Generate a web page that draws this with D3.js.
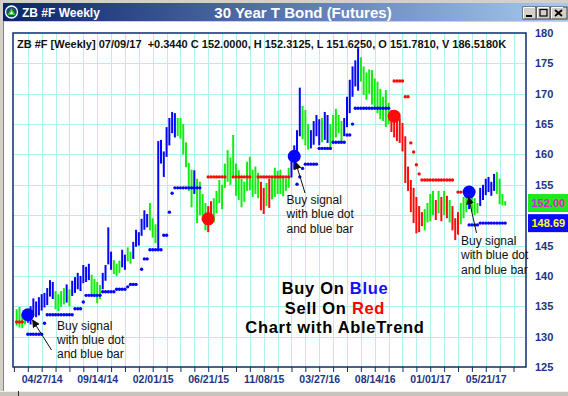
<!DOCTYPE html>
<html>
<head>
<meta charset="utf-8">
<script src="https://cdn.jsdelivr.net/npm/d3@7"></script>
<style>
  body { margin: 0; background: #d4d0c8; }
  svg { display: block; font-family: "Liberation Sans", Arial, sans-serif; }
</style>
</head>
<body>
<script>
// weekly bars, first one dated 02/23/14
const firstWeek = '02/23/14';

const highs = [
  134.5, 134.9, 133.8, 133.5, 134.5, 135.0, 136.3, 135.8, 136.5, 137.0,
  137.2, 138.0, 139.3, 139.0, 137.5, 137.0, 137.5, 138.0, 138.6, 137.8,
  139.2, 139.8, 140.5, 140.0, 141.8, 141.5, 142.0, 140.2, 139.5, 139.0,
  138.5, 140.5, 141.8, 148.0, 144.0, 142.6, 142.0, 142.5, 144.3, 143.5,
  144.7, 144.0, 145.6, 147.6, 147.2, 149.4, 150.8, 150.2, 152.0, 149.5,
  148.5, 162.2, 162.4, 160.5, 164.5, 166.0, 167.0, 166.8, 166.0, 166.0,
  165.0, 162.0, 158.6, 157.5, 157.4, 156.0, 155.5, 153.5, 152.0, 151.5,
  152.3, 152.8, 154.0, 155.8, 155.0, 158.5, 160.7, 159.5, 163.2, 158.5,
  157.4, 156.0, 155.5, 158.8, 159.6, 157.5, 158.0, 157.0, 155.5, 154.5,
  155.3, 156.0, 156.2, 157.8, 157.3, 157.5, 156.5, 156.0, 157.8, 159.2,
  161.5, 164.0, 171.0, 168.0, 167.3, 165.0, 164.0, 165.5, 166.5, 165.8,
  166.0, 167.0, 166.5, 165.0, 166.5, 167.5, 166.5, 165.5, 166.0, 169.5,
  172.3, 174.5, 175.5, 177.5, 176.0, 174.5, 173.5, 174.0, 173.9, 172.5,
  172.0, 170.8, 169.5, 170.6, 168.5, 167.3, 167.0, 166.5, 166.0, 165.2,
  163.0, 158.0, 155.8, 154.5, 153.0, 151.5, 150.5, 151.0, 152.0, 153.5,
  154.0, 152.5, 154.0, 153.0, 154.0, 153.2, 152.5, 151.5, 149.5, 150.5,
  152.0, 153.0, 153.5, 154.0, 153.0, 152.8, 152.0, 154.5, 155.0, 156.0,
  156.3, 155.5, 156.8, 157.1, 156.0, 153.5, 152.3
];

const lows = [
  131.8, 131.5, 131.4, 132.0, 132.3, 132.0, 133.4, 133.2, 133.5, 134.3,
  134.8, 135.2, 136.6, 136.2, 134.5, 134.2, 134.9, 135.3, 135.6, 135.0,
  136.7, 137.2, 137.8, 137.5, 138.8, 139.0, 139.3, 137.0, 136.5, 135.5,
  136.2, 137.8, 139.2, 141.9, 141.0, 140.3, 140.0, 140.5, 141.4, 141.0,
  142.4, 142.0, 142.8, 144.8, 145.0, 146.6, 147.6, 148.0, 147.5, 146.3,
  145.4, 144.3, 158.5, 156.3, 159.6, 161.5, 163.5, 162.8, 163.0, 162.6,
  160.0, 157.9, 154.0, 151.3, 153.5, 148.7, 150.0, 149.0, 147.5, 147.2,
  148.5, 148.8, 150.3, 152.0, 151.0, 154.5, 155.5, 155.0, 156.5, 153.2,
  152.5, 151.3, 152.2, 154.0, 154.1, 153.0, 153.5, 152.8, 150.8, 150.2,
  151.5, 151.2, 152.6, 153.0, 153.5, 153.5, 153.1, 154.0, 154.5, 156.2,
  157.5, 159.6, 163.0, 162.5, 161.5, 160.8, 161.0, 161.6, 163.0, 161.5,
  162.0, 162.4, 161.9, 161.2, 162.0, 162.8, 163.5, 162.2, 163.0, 164.5,
  166.8, 169.5, 171.2, 170.5, 172.0, 169.8, 169.0, 170.0, 168.2, 167.5,
  166.8, 165.8, 165.5, 164.5, 165.0, 163.7, 162.8, 162.2, 161.9, 160.5,
  155.3, 154.0, 150.5, 148.7, 147.0, 147.2, 148.2, 147.5, 148.8, 149.0,
  150.0, 149.2, 150.3, 149.0, 150.0, 149.5, 148.8, 147.5, 145.9, 146.8,
  148.5, 149.5, 150.5, 151.0, 150.5, 150.0, 150.3, 151.5, 152.5, 153.3,
  153.8, 153.2, 154.0, 153.5, 151.8, 151.6, 151.6
];

// B = up (blue), G = neutral (green), R = down (red)
const trend =
  'GGGGBBBBBBBBBBGGGGBGBBBBBBBGGGGBBBBGGGBBGGBBBBBBGGGBBBBBBBGGGGGGBGGGG' +
  'RRGGGGGGGGGGGGGGGGGRRGRGGGGGGGBBBBGGGBBBBGBBGGGGGBBBBBBGGGGGGGGGGG' +
  'RRRRRRRRRRRRGGGGRGRGRGRRRGGGBGGGBBBBBBGGGG';

// stop levels: [first bar, last bar, level, side]
const stopRuns = [
  [0, 2, 132.4, 'R'], [4, 9, 130.4, 'B'], [10, 10, 132.2, 'B'], [11, 20, 133.6, 'B'],
  [21, 23, 134.6, 'B'], [24, 24, 135.7, 'B'], [25, 30, 136.8, 'B'], [31, 35, 137.4, 'B'],
  [36, 39, 137.8, 'B'], [40, 40, 138.2, 'B'], [41, 43, 138.6, 'B'], [45, 45, 141.1, 'B'],
  [46, 47, 142.8, 'B'], [48, 52, 144.3, 'B'], [53, 54, 146.7, 'B'], [55, 55, 150.5, 'B'],
  [56, 56, 153.6, 'B'], [57, 66, 154.5, 'B'],
  [69, 75, 156.3, 'R'], [78, 84, 156.3, 'R'], [87, 98, 156.3, 'R'],
  [101, 101, 155.1, 'B'], [102, 102, 156.3, 'B'], [103, 103, 157.7, 'B'], [104, 108, 158.4, 'B'],
  [109, 113, 161.0, 'B'], [114, 118, 162.0, 'B'], [119, 120, 163.2, 'B'], [121, 121, 165.0, 'B'],
  [122, 134, 167.6, 'B'],
  [136, 139, 172.1, 'R'], [140, 141, 169.5, 'R'], [142, 142, 161.9, 'R'], [143, 143, 160.4, 'R'],
  [144, 144, 158.3, 'R'], [145, 145, 156.8, 'R'], [146, 157, 155.8, 'R'], [159, 160, 153.8, 'R'],
  [163, 166, 148.4, 'B'], [167, 176, 148.7, 'B']
];

// signal dots: bar index, level, side
const signals = [
  [4, 133.6, 'B'], [69, 149.4, 'R'], [100, 159.7, 'B'], [136, 166.3, 'R'], [163, 153.8, 'B']
];

const priceTicks = [125, 130, 135, 140, 145, 150, 155, 160, 165, 170, 175, 180];
const dateLabels = ['04/27/14', '09/14/14', '02/01/15', '06/21/15', '11/08/15',
  '03/27/16', '08/14/16', '01/01/17', '05/21/17'];

const lastClose = 152.00;
const lastStop = 148.69;
const headerText = 'ZB #F [Weekly] 07/09/17  +0.3440 C 152.0000, H 152.3125, L 151.6250, O 151.7810, V 186.5180K';

const colors = { B: '#0505ff', G: '#10ee10', R: '#ff0a0a' };
const navy = '#0c2c6c';

const W = 568, H = 396;
const svg = d3.select('body').append('svg').attr('width', W).attr('height', H);

// window chrome
svg.append('rect').attr('width', W).attr('height', H).attr('fill', '#d4d0c8');
svg.append('rect').attr('x', 4).attr('y', 22).attr('width', W - 4).attr('height', 369).attr('fill', '#fff');
svg.append('line').attr('x1', 3.5).attr('x2', 3.5).attr('y1', 21).attr('y2', 391).attr('stroke', '#808080');

const grad = svg.append('defs').append('linearGradient').attr('id', 'tb');
grad.append('stop').attr('offset', '0%').attr('stop-color', '#0a246a');
grad.append('stop').attr('offset', '100%').attr('stop-color', '#a6caf0');
svg.append('rect').attr('x', 3).attr('y', 3).attr('width', W - 3).attr('height', 18).attr('fill', 'url(#tb)');

const icon = svg.append('g').attr('transform', 'translate(11.5,12)');
icon.append('circle').attr('r', 6).attr('fill', '#1f4d6e').attr('stroke', '#fff').attr('stroke-width', 1.3);
icon.append('path').attr('d', 'M0,-4 L4,3 L-4,3 Z').attr('fill', '#3cc43c');
icon.append('path').attr('d', 'M0,-1 L1.6,2 L-1.6,2 Z').attr('fill', '#fff');

svg.append('text').attr('x', 22).attr('y', 16.5).attr('fill', '#fff')
  .attr('font-size', 12).attr('font-weight', 'bold').text('ZB #F Weekly');
svg.append('text').attr('x', 303).attr('y', 17.5).attr('text-anchor', 'middle').attr('fill', '#fff')
  .attr('font-size', 15).attr('font-weight', 'bold').text('30 Year T Bond (Futures)');

[[523, '_'], [537, '□'], [551, '×']].forEach(([bx, glyph], k) => {
  const b = svg.append('g').attr('transform', `translate(${bx},7)`);
  b.append('rect').attr('width', k === 2 ? 16 : 13).attr('height', 12).attr('fill', '#d4d0c8')
    .attr('stroke', '#404040').attr('stroke-width', 1);
  b.append('path').attr('d', 'M0.5,11.5 V0.5 H12').attr('stroke', '#fff').attr('fill', 'none');
  if (k === 0) b.append('rect').attr('x', 3).attr('y', 8).attr('width', 6).attr('height', 2).attr('fill', '#000');
  if (k === 1) b.append('rect').attr('x', 3).attr('y', 2.5).attr('width', 7).attr('height', 6.5)
    .attr('fill', 'none').attr('stroke', '#000').attr('stroke-width', 1.2);
  if (k === 2) b.append('path').attr('d', 'M4,3 L11,9 M11,3 L4,9').attr('stroke', '#000').attr('stroke-width', 1.8);
});

// bottom strip
svg.append('rect').attr('x', 0).attr('y', 391).attr('width', W).attr('height', 5).attr('fill', '#c8c4bc');
svg.append('line').attr('x1', 0).attr('x2', W).attr('y1', 391.5).attr('y2', 391.5).attr('stroke', '#f0f0f0');
svg.append('line').attr('x1', 18.5).attr('x2', 18.5).attr('y1', 391).attr('y2', 396).attr('stroke', '#303030');

// scales
const plot = { left: 13, top: 33, right: 526, bottom: 367 };
const parse = d3.utcParse('%m/%d/%y');
const fmt = d3.utcFormat('%m/%d/%y');
const t0 = parse(firstWeek);
const day = 864e5;
const dates = highs.map((_, i) => d3.utcDay.offset(t0, 7 * i));

const x = d3.scaleUtc()
  .domain([new Date(+t0 - 9.33 * day), new Date(+t0 + 1284.5 * day)])
  .range([plot.left, plot.right]);
const y = d3.scaleLinear().domain([125, 180]).range([plot.bottom, plot.top]);

const labelDates = dateLabels.map(parse);
const labelSet = new Set(labelDates.map(d => +d));
const gridDates = d3.utcDay.range(d3.utcDay.offset(labelDates[0], -70), x.domain()[1], 35);

// grid
const grid = svg.append('g').attr('stroke', '#b2f0f0').attr('stroke-width', 1);
grid.selectAll('.v').data(gridDates.filter(d => x(d) > plot.left + 1)).join('line')
  .attr('x1', d => Math.round(x(d)) + 0.5).attr('x2', d => Math.round(x(d)) + 0.5)
  .attr('y1', plot.top).attr('y2', plot.bottom);
grid.selectAll('.h').data(priceTicks.slice(1, -1)).join('line')
  .attr('x1', plot.left).attr('x2', plot.right)
  .attr('y1', d => Math.round(y(d)) + 0.5).attr('y2', d => Math.round(y(d)) + 0.5);

// axes
const xAxis = svg.append('g').attr('transform', `translate(0,${plot.bottom})`)
  .call(d3.axisBottom(x).tickValues(gridDates).tickSize(5).tickPadding(4)
    .tickFormat(d => labelSet.has(+d) ? fmt(d) : ''));
xAxis.select('.domain').remove();
xAxis.selectAll('line').attr('stroke', navy);
xAxis.selectAll('text').attr('fill', '#1b3584').attr('font-size', 10.5).attr('font-weight', 'bold')
  .attr('font-family', '"Liberation Sans", Arial, sans-serif');

// the 150 label sits under the last-price boxes, so it is left out
const boxes = [
  { v: lastClose, bg: '#1ee81e', fg: '#e020d0' },
  { v: lastStop, bg: '#0a0aff', fg: '#ffff30' }
];
const hidden = v => boxes.some(b => Math.abs(y(b.v) - y(v)) < 13);

const yAxis = svg.append('g').attr('transform', `translate(${plot.right},0)`)
  .call(d3.axisRight(y).tickValues(priceTicks.filter(v => !hidden(v))).tickSize(0).tickPadding(9));
yAxis.select('.domain').remove();
yAxis.selectAll('text').attr('fill', '#1b3584').attr('font-size', 11).attr('font-weight', 'bold')
  .attr('font-family', '"Liberation Sans", Arial, sans-serif');

// header line
svg.append('text').attr('x', 17).attr('y', 47.5).attr('font-size', 11).attr('font-weight', 'bold')
  .attr('fill', '#111').attr('xml:space', 'preserve').text(headerText);

// price bars
const bars = highs.map((h, i) => ({ date: dates[i], hi: h, lo: lows[i], side: trend[i] }));
svg.append('g').selectAll('line').data(bars).join('line')
  .attr('x1', d => x(d.date)).attr('x2', d => x(d.date))
  .attr('y1', d => y(d.hi)).attr('y2', d => y(d.lo))
  .attr('stroke', d => colors[d.side]).attr('stroke-width', 2);

// stop dots
const stops = stopRuns.flatMap(([a, b, v, side]) =>
  d3.range(a, b + 1).map(i => ({ date: dates[i], v, side })));
svg.append('g').selectAll('circle').data(stops).join('circle')
  .attr('cx', d => x(d.date)).attr('cy', d => y(d.v)).attr('r', 1.7)
  .attr('fill', d => colors[d.side]);

// signal dots
svg.append('g').selectAll('circle').data(signals).join('circle')
  .attr('cx', d => x(dates[d[0]])).attr('cy', d => y(d[1])).attr('r', 6.5)
  .attr('fill', d => colors[d[2]]);

// frame
svg.append('rect').attr('x', plot.left).attr('y', plot.top)
  .attr('width', plot.right - plot.left).attr('height', plot.bottom - plot.top)
  .attr('fill', 'none').attr('stroke', navy).attr('stroke-width', 1.5);

// last price / stop boxes
const bx = svg.append('g').selectAll('g').data(boxes).join('g')
  .attr('transform', d => `translate(528,${y(d.v) - 9})`);
bx.append('rect').attr('width', 40).attr('height', 18).attr('fill', d => d.bg);
bx.append('text').attr('x', 3.5).attr('y', 13).attr('font-size', 11).attr('font-weight', 'bold')
  .attr('fill', d => d.fg).text(d => d.v.toFixed(2));

// annotations
const notes = [
  { tx: 57, ty: 329.5, from: [51.5, 350], to: [32.5, 320] },
  { tx: 286.5, ty: 204, from: [305, 193], to: [295.5, 162] },
  { tx: 461, ty: 245, from: [476.5, 233], to: [468.5, 197] }
];
const noteLines = ['Buy signal', 'with blue dot', 'and blue bar'];
svg.append('defs').append('marker').attr('id', 'ah').attr('viewBox', '0 0 10 10')
  .attr('refX', 9).attr('refY', 5).attr('markerWidth', 8).attr('markerHeight', 8)
  .attr('orient', 'auto').attr('markerUnits', 'userSpaceOnUse')
  .append('path').attr('d', 'M0,0 L10,5 L0,10 Z').attr('fill', '#111');
notes.forEach(n => {
  svg.append('line').attr('x1', n.from[0]).attr('y1', n.from[1]).attr('x2', n.to[0]).attr('y2', n.to[1])
    .attr('stroke', '#111').attr('stroke-width', 1).attr('marker-end', 'url(#ah)');
  svg.append('text').attr('font-size', 12).attr('fill', '#111')
    .selectAll('tspan').data(noteLines).join('tspan')
    .attr('x', n.tx).attr('y', (d, k) => n.ty + k * 14.3).text(d => d);
});

// centre caption
const caption = [
  [['Buy On ', '#000'], ['Blue', '#1010ff']],
  [['Sell On ', '#000'], ['Red', '#ff0000']],
  [['Chart with AbleTrend', '#000']]
];
caption.forEach((parts, k) => {
  const t = svg.append('text').attr('x', 335).attr('y', 294 + k * 19.6).attr('text-anchor', 'middle')
    .attr('font-size', 16.5).attr('font-weight', 'bold').attr('letter-spacing', 0.7);
  parts.forEach(([s, c]) => t.append('tspan').attr('fill', c).text(s));
});
</script>
</body>
</html>
